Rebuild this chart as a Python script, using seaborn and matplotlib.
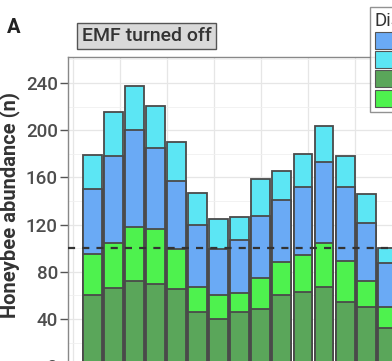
import numpy as np
import pandas as pd
import seaborn as sns
import matplotlib.pyplot as plt
from matplotlib.patches import Patch
from matplotlib.ticker import MultipleLocator

# values (stack segments, bottom to top)
sample = list(range(1, 16))
dark_green = [60, 66, 72, 70, 65, 45.5, 39.6, 45.8, 48.6, 60.7, 63, 67, 54.5, 49.7, 32.5]
bright_green = [35, 38.5, 46, 46, 34, 21.5, 21, 16, 25.7, 27.7, 31, 37, 34.7, 22.3, 17.8]
blue = [55, 74, 82, 69.3, 58, 52.5, 38.8, 44.8, 53.1, 52.6, 57.4, 68.6, 62.2, 49.4, 37.3]
cyan = [29, 36.5, 37.6, 35.3, 33, 27.5, 25.5, 19.7, 31.1, 24.5, 28.3, 31.1, 27.1, 24.1, 12.7]

legend_labels = ["0 m", "1 m", "2 m", "3 m"]
col_blue, col_cyan, col_dgreen, col_bgreen = "#6aaaf5", "#5ce6f4", "#5aa65a", "#4ef24e"

df = pd.DataFrame({"sample": sample, "dg": dark_green, "bg": bright_green,
                   "bl": blue, "cy": cyan})
df["s1"] = df["dg"]
df["s2"] = df["s1"] + df["bg"]
df["s3"] = df["s2"] + df["bl"]
df["s4"] = df["s3"] + df["cy"]

sns.set_theme(style="white")
plt.rcParams['font.family'] = ['Roboto', 'DejaVu Sans']

fig = plt.figure(figsize=(3.92, 3.61), dpi=100)
ax = fig.add_axes([68/392, 1 - 380.3/361, 352/392, 323.3/361])

# draw the stack from the tallest cumulative down so each layer covers the one above
for col, c in [("s4", col_cyan), ("s3", col_blue), ("s2", col_bgreen), ("s1", col_dgreen)]:
    sns.barplot(data=df, x="sample", y=col, color=c, saturation=1, width=0.9,
                native_scale=True, edgecolor="#4a4a4a", linewidth=1.3, ax=ax, zorder=2)

ax.axhline(100, color="#333333", ls=(0, (3.2, 3.2)), lw=1.6, zorder=5)

ax.set_xlim(1 - 1.164, 1 + 15.56)
ax.set_ylim(-12, 262)
ax.yaxis.set_major_locator(MultipleLocator(40))
ax.yaxis.set_minor_locator(MultipleLocator(20))
ax.xaxis.set_major_locator(MultipleLocator(2.233, offset=0.0736))
ax.grid(which="major", color="#e6e6e6", lw=0.9)
ax.grid(which="minor", axis="y", color="#f0f0f0", lw=0.6)
ax.set_axisbelow(True)

ax.tick_params(axis="y", left=True, length=5.8, width=1, color="#555555",
               labelsize=13.5, labelcolor="#4d4d4d", pad=1.5)
ax.tick_params(axis="x", bottom=False, labelbottom=False)
for lab in ax.get_yticklabels():
    lab.set_fontweight("medium")
for sp in ax.spines.values():
    sp.set_color("#888888")
    sp.set_linewidth(1)

ax.set_xlabel("")
ax.set_ylabel("Honeybee abundance (n)", fontsize=14.5, fontweight="bold", color="#333333")
ax.yaxis.set_label_coords(-0.135, 0.542)

fig.text(7/392, 1 - 33/361, "A", fontsize=14.5, fontweight="bold", color="#222222", va="baseline")
fig.text(146.5/392, 1 - 36/361, "EMF turned off", fontsize=14, fontweight="medium",
         color="#333333", ha="center", va="center",
         bbox=dict(boxstyle="square,pad=0.22", fc="#d9d9d9", ec="#555555", lw=1))

handles = [Patch(fc=c, ec="#555555", lw=0.8) for c in [col_blue, col_cyan, col_dgreen, col_bgreen]]
leg = fig.legend(handles, legend_labels, title="Distance", loc="upper left",
                 bbox_to_anchor=(370/392, 1 - 7/361), frameon=True, fancybox=False,
                 fontsize=12, title_fontsize=13.5, borderpad=0.3, handlelength=1.6,
                 handleheight=1.2, labelspacing=0.12, alignment="left", borderaxespad=0)
leg.get_frame().set_edgecolor("#777777")
leg.get_frame().set_linewidth(1)
leg.get_title().set_color("#333333")

fig.savefig("out.png", dpi=100)
